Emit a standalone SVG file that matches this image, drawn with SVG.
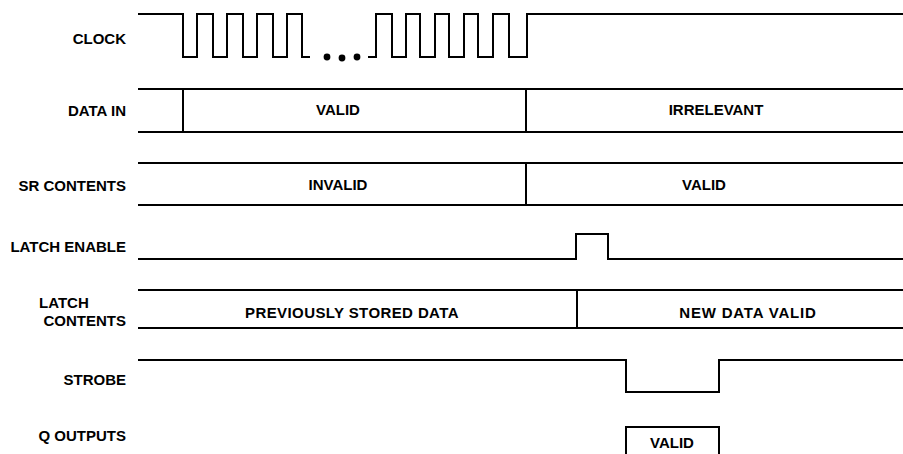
<svg xmlns="http://www.w3.org/2000/svg" width="903" height="454" viewBox="0 0 903 454">
<style>
.w{fill:none;stroke:#000;stroke-width:2;stroke-linejoin:miter}
.lbl{font-family:"Liberation Sans",Arial,sans-serif;font-weight:bold;font-size:15px;fill:#000;text-anchor:end}
.t{font-family:"Liberation Sans",Arial,sans-serif;font-weight:bold;font-size:15px;fill:#000;text-anchor:middle}
</style>
<rect width="903" height="454" fill="#fff"/>
<g id="labels">
<text class="lbl" x="126" y="44">CLOCK</text>
<text class="lbl" x="126" y="116">DATA IN</text>
<text class="lbl" x="126" y="191">SR CONTENTS</text>
<text class="lbl" x="126" y="252">LATCH ENABLE</text>
<text class="lbl" x="39" y="308" style="text-anchor:start">LATCH</text>
<text class="lbl" x="126" y="326">CONTENTS</text>
<text class="lbl" x="126" y="385">STROBE</text>
<text class="lbl" x="126" y="441">Q OUTPUTS</text>
</g>
<g id="clock">
<path class="w" d="M138,14 H183 V57 H197 V14 H213 V57 H227 V14 H243 V57 H257 V14 H273 V57 H287 V14 H302 V57 H310"/>
<circle cx="327" cy="57" r="3.4"/>
<circle cx="342" cy="58" r="3.4"/>
<circle cx="357" cy="57" r="3.4"/>
<path class="w" d="M368,57 H376 V14 H392 V57 H406 V14 H420 V57 H435 V14 H449 V57 H464 V14 H478 V57 H493 V14 H509 V57 H527 V14 H903"/>
</g>
<g id="data-in">
<path class="w" d="M138,89 H903 M138,132 H903 M183,89 V132 M526,89 V132"/>
<text class="t" x="338" y="115">VALID</text>
<text class="t" x="716" y="115">IRRELEVANT</text>
</g>
<g id="sr-contents">
<path class="w" d="M138,163 H903 M138,205 H903 M526,163 V205"/>
<text class="t" x="338" y="190">INVALID</text>
<text class="t" x="704" y="190">VALID</text>
</g>
<g id="latch-enable">
<path class="w" d="M138,259 H576 V234 H608 V259 H903"/>
</g>
<g id="latch-contents">
<path class="w" d="M138,290 H903 M138,328 H903 M577,290 V328"/>
<text class="t" x="352" y="318" style="letter-spacing:0.4px">PREVIOUSLY STORED DATA</text>
<text class="t" x="748" y="318" style="letter-spacing:0.8px">NEW DATA VALID</text>
</g>
<g id="strobe">
<path class="w" d="M138,360 H626 V392 H719 V360 H903"/>
</g>
<g id="q-outputs">
<path class="w" d="M626,456 V427 H719 V456"/>
<text class="t" x="672" y="448">VALID</text>
</g>
<g id="connectors"/>
</svg>
